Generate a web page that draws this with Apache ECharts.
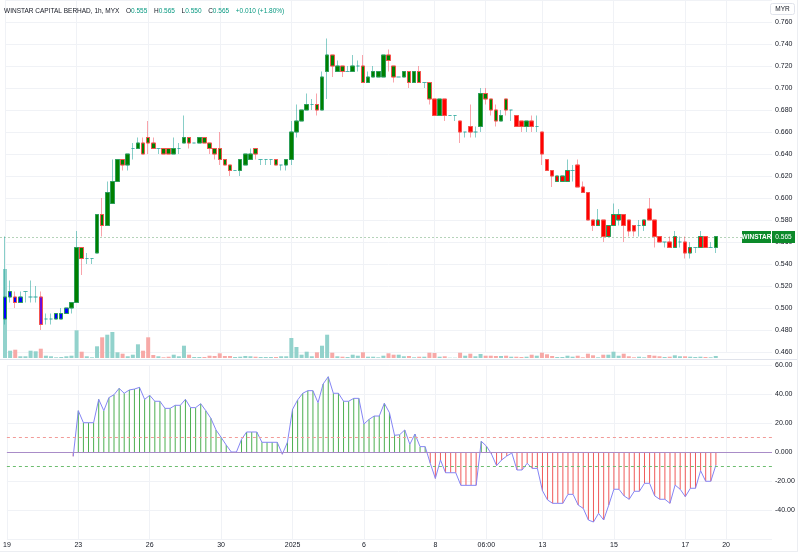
<!DOCTYPE html>
<html><head><meta charset="utf-8">
<script src="https://cdn.jsdelivr.net/npm/echarts@6/dist/echarts.min.js"></script>
<style>html,body{margin:0;padding:0;background:#fff}#c{width:800px;height:553px}</style>
</head><body><div id="c"></div>
<script>
// ---- data (1h bars, WINSTAR CAPITAL BERHAD, MYX) ----
const opens = [
 .49,.51,.51,.505,.515,.51,.51,.51,.49,.49,
 .49,.49,.495,.50,.505,.555,.545,.545,.55,.585,
 .575,.595,.615,.635,.63,.645,.645,.65,.655,.65,
 .645,.645,.645,.64,.645,.65,.655,.65,.65,.655,
 .65,.645,.645,.635,.63,.625,.625,.63,.635,.645,
 .635,.635,.635,.635,.63,.63,.635,.66,.67,.68,
 .685,.685,.68,.715,.73,.715,.72,.715,.715,.72,
 .72,.705,.71,.71,.71,.73,.72,.71,.71,.715,
 .705,.715,.705,.705,.69,.675,.69,.675,.675,.67,
 .66,.665,.66,.665,.695,.69,.68,.67,.69,.68,
 .675,.67,.665,.67,.665,.66,.635,.625,.615,.615,
 .615,.625,.63,.61,.605,.58,.575,.58,.565,.575,
 .58,.585,.58,.575,.575,.575,.59,.58,.565,.56,
 .56,.555,.56,.56,.55,.555,.555,.565,.555,.555];
const highs = [
 .565,.525,.515,.515,.515,.525,.52,.515,.495,.495,
 .495,.50,.50,.505,.57,.555,.55,.545,.585,.60,
 .615,.635,.635,.635,.64,.65,.655,.655,.67,.655,
 .645,.645,.645,.655,.65,.675,.655,.65,.655,.655,
 .65,.645,.66,.635,.63,.625,.635,.64,.645,.645,
 .635,.635,.635,.635,.63,.635,.67,.685,.68,.695,
 .69,.695,.715,.745,.73,.725,.72,.72,.73,.725,
 .73,.715,.72,.715,.73,.735,.72,.71,.715,.715,
 .715,.72,.705,.705,.69,.69,.69,.675,.675,.67,
 .66,.685,.665,.70,.70,.69,.685,.68,.69,.68,
 .675,.67,.67,.675,.675,.66,.635,.625,.62,.62,
 .635,.63,.635,.615,.605,.58,.59,.58,.575,.595,
 .59,.585,.58,.575,.58,.58,.60,.58,.565,.56,
 .565,.57,.565,.565,.56,.555,.57,.565,.56,.565];
const lows = [
 .485,.505,.50,.505,.505,.505,.505,.48,.485,.485,
 .49,.49,.495,.495,.505,.53,.54,.54,.55,.565,
 .575,.595,.615,.625,.625,.635,.645,.64,.64,.645,
 .64,.64,.64,.64,.64,.65,.645,.65,.65,.65,
 .64,.635,.63,.63,.62,.625,.62,.63,.635,.635,
 .63,.63,.63,.63,.625,.625,.63,.655,.67,.68,
 .68,.675,.68,.69,.71,.715,.71,.715,.715,.715,
 .705,.705,.71,.71,.71,.715,.705,.71,.71,.70,
 .705,.705,.70,.685,.675,.675,.67,.675,.67,.65,
 .655,.655,.655,.66,.685,.675,.665,.67,.675,.67,
 .665,.66,.66,.66,.66,.63,.625,.61,.615,.615,
 .615,.615,.61,.605,.58,.57,.575,.56,.565,.575,
 .575,.56,.565,.565,.565,.57,.58,.555,.56,.555,
 .555,.555,.555,.545,.545,.55,.555,.555,.555,.55];
const closes = [
 .51,.515,.505,.51,.515,.51,.51,.485,.49,.49,
 .495,.495,.50,.505,.555,.545,.545,.545,.585,.575,
 .605,.615,.635,.63,.64,.645,.65,.64,.65,.645,
 .645,.64,.64,.645,.645,.655,.65,.65,.655,.65,
 .645,.64,.635,.63,.625,.625,.635,.64,.64,.64,
 .635,.635,.635,.63,.63,.635,.66,.67,.68,.685,
 .685,.68,.71,.73,.72,.72,.715,.715,.72,.72,
 .705,.71,.715,.715,.73,.725,.71,.71,.715,.705,
 .715,.705,.705,.69,.675,.69,.675,.675,.675,.66,
 .66,.66,.66,.695,.69,.68,.67,.675,.68,.68,
 .665,.665,.67,.665,.665,.64,.625,.62,.62,.62,
 .625,.625,.61,.605,.58,.575,.58,.565,.575,.585,
 .585,.575,.57,.57,.575,.58,.58,.565,.56,.56,
 .555,.565,.56,.55,.555,.555,.565,.555,.555,.565];
const volumes = [
 89,7.3,8.3,1.7,1.7,7.3,6.7,9.3,2.3,1.7,
 .7,1,1.7,2.3,27.7,6.3,1.7,.7,11.7,20.7,
 23.3,26,5.7,4.3,1.7,3.3,13.7,7.3,20.7,3,
 1.7,.7,1.3,3.3,1.7,12.3,3.3,1,1,1,
 2.3,2,4.7,2,2,1,1.3,2,1.7,1.3,
 1,1,1,1,1.7,1.7,20,11,3.3,6.3,
 1.7,5.7,12.3,23.3,5.3,1.7,1.3,1,3.3,2.3,
 5.7,1.3,1.3,.7,2.3,4.7,3.3,3.3,1.7,2,
 .7,1.3,1.3,5.3,5,1.3,1.7,.3,.3,5.3,
 2.3,4.3,1.7,4,2.3,2.3,2,2,2.3,1.3,
 1.3,1,1.3,3.3,2.3,5.3,3.7,2,1,1,
 2.3,1.3,2.3,.7,4.3,2.7,.7,3.3,3.3,6.3,
 2.3,4.3,1.7,.7,1.3,.7,3,2.3,1.7,1,
 1.3,2.7,1.7,1.7,1.3,1,1.3,1,.7,2];
const oscillator = [
 null,null,null,null,null,null,null,null,null,null,
 null,null,null,-3,28.5,20.2,20.2,20.2,36.3,28.5,
 37.5,39.5,43.9,40.5,42.8,43.4,44.6,36.3,39.1,35,
 35,30.1,30.1,32.2,32.2,36.3,30.6,30.6,33.3,28.5,
 23.2,15.2,10.1,4.8,0,0,8.7,13.8,13.8,13.8,
 6.7,6.7,6.7,6.7,-1.5,6.7,29.4,35.9,40.5,42.3,
 42.3,34,46.9,51.9,40.5,40.5,35,35,37,37,
 19.3,22.5,24.8,24.8,33.6,27.1,11.5,11.9,15.2,5.3,
 12.4,3.7,3.7,-7.8,-18.2,-5.5,-14.3,-14.3,-14.3,-23,
 -23,-23,-23,7.4,4.1,-1.4,-9.4,-5.5,-2.8,-0.7,
 -12.4,-12.4,-7.8,-11.3,-11.3,-26.7,-33.1,-35.4,-35.4,-35.4,
 -29.2,-29.2,-36.6,-38.9,-46.9,-48.3,-42.3,-46.9,-36.6,-25.7,
 -25.7,-30.3,-32.6,-27.1,-27.1,-21.6,-21.6,-30.3,-32.6,-32.6,
 -35.4,-22.8,-25.7,-30.8,-25,-25,-12.9,-20.2,-20.2,-9];
const oscLevels = [10, 0, -10];
const highlightBars = [7];
const tickIndex = [0,14,28,42,56,70,84,94,105,119,133,141];
const tickText  = ['19','23','26','30','2025','6','8','06:00','13','15','17','20'];
const totalSlots = 151;
const symbolName = 'WINSTAR CAPITAL BERHAD, 1h, MYX';
const shortName = 'WINSTAR';
const currency = 'MYR';

// ---- build ----
const N = closes.length;
const cats = Array.from({length: totalSlots}, (_, i) => String(i));
const labelAt = {}; tickIndex.forEach((k, j) => labelAt[k] = tickText[j]);
const isTick = i => labelAt[i] !== undefined;

const UP_FADE = 'rgba(38,166,154,0.55)', DN_FADE = 'rgba(242,54,69,0.45)';
const UP_BORDER = '#2e9e5b', DN_BORDER = '#f4524d';
const FILL = {G: '#008000', R: '#ff0000', B: '#0000ff', P: '#6a0ddb'};
const GRID_LINE = '#f0f2f6';
const TXT = '#131722';

function fillOf(i) {
  if (highlightBars.includes(i)) return FILL.P;
  const v = oscillator[i];
  if (v === null) return FILL.B;
  return v < oscLevels[2] ? FILL.R : FILL.G;
}

const candleFaded = [], candleBody = [], volData = [], stemData = [];
for (let i = 0; i < N; i++) {
  const o = opens[i], c = closes[i];
  candleFaded.push([o, c, lows[i], highs[i]]);
  if (o === c) candleBody.push('-');
  else {
    const b = c > o ? UP_BORDER : DN_BORDER, f = fillOf(i);
    candleBody.push({value: [o, c, Math.min(o, c), Math.max(o, c)],
      itemStyle: {color: f, color0: f, borderColor: b, borderColor0: b}});
  }
  volData.push({value: volumes[i], itemStyle: {color: c < o ? '#f7a9a7' : '#92d2cc'}});
  const v = oscillator[i];
  stemData.push(v === null ? '-' : {value: v, itemStyle: {color: v >= 0 ? '#4caf50' : '#f05a5a'}});
}

const L = 5, R = 28;
function xAxis(gridIndex, showLabel) {
  return {
    type: 'category', gridIndex, data: cats, boundaryGap: false,
    axisLine: {show: false}, axisTick: {show: false},
    axisLabel: {show: showLabel, interval: (i) => isTick(i), formatter: (v, i) => labelAt[i] || '',
      fontSize: 7, color: TXT, margin: 3, fontFamily: 'Liberation Sans, Arial, sans-serif'},
    splitLine: {show: gridIndex !== 1, interval: (i) => isTick(i), lineStyle: {color: GRID_LINE, width: 1}}
  };
}

const chart = echarts.init(document.getElementById('c'));
chart.setOption({
  animation: false,
  backgroundColor: '#ffffff',
  grid: [
    {left: L, right: R, top: 0, height: 352},
    {left: L, right: R, top: 268, height: 90},
    {left: L, right: R, top: 365, height: 174}
  ],
  xAxis: [xAxis(0, false), xAxis(1, false), xAxis(2, true)],
  yAxis: [
    {type: 'value', gridIndex: 0, position: 'right', min: 0.46, max: 0.78, interval: 0.02,
     axisLine: {show: false}, axisTick: {show: false},
     axisLabel: {fontSize: 7, color: TXT, margin: 3, showMaxLabel: false,
       formatter: v => v.toFixed(3), fontFamily: 'Liberation Sans, Arial, sans-serif'},
     splitLine: {lineStyle: {color: GRID_LINE}}},
    {type: 'value', gridIndex: 1, min: 0, max: 90, show: false},
    {type: 'value', gridIndex: 2, position: 'right', min: -60, max: 60, interval: 20,
     axisLine: {show: false}, axisTick: {show: false},
     axisLabel: {fontSize: 7, color: TXT, margin: 3, showMinLabel: false,
       formatter: v => v === 0 ? '0.000' : v.toFixed(2), fontFamily: 'Liberation Sans, Arial, sans-serif'},
     splitLine: {lineStyle: {color: GRID_LINE}}}
  ],
  series: [
    {type: 'bar', name: 'vol', xAxisIndex: 1, yAxisIndex: 1, data: volData, barWidth: 4, z: 1},
    {type: 'candlestick', name: 'faded', xAxisIndex: 0, yAxisIndex: 0, data: candleFaded, barWidth: 4, z: 2,
     itemStyle: {color: UP_FADE, color0: DN_FADE, borderColor: UP_FADE, borderColor0: DN_FADE,
       borderColorDoji: UP_FADE, borderWidth: 1}},
    {type: 'candlestick', name: 'body', xAxisIndex: 0, yAxisIndex: 0, data: candleBody, barWidth: 4, z: 3,
     itemStyle: {borderWidth: 1}},
    {type: 'bar', name: 'stems', xAxisIndex: 2, yAxisIndex: 2, data: stemData, barWidth: 1, z: 2},
    {type: 'line', name: 'osc', xAxisIndex: 2, yAxisIndex: 2, data: oscillator, showSymbol: false,
     lineStyle: {color: '#8585f5', width: 1}, z: 4,
     markLine: {silent: true, symbol: 'none', label: {show: false},
       data: [
         {yAxis: oscLevels[0], lineStyle: {type: [3, 3], color: '#f29b98', width: 1}},
         {yAxis: oscLevels[1], lineStyle: {type: 'solid', color: '#a98cc8', width: 1}},
         {yAxis: oscLevels[2], lineStyle: {type: [3, 3], color: '#6dbd70', width: 1}}
       ]}}
  ]
});

const last = N - 1;
const lc = closes[last], pc = closes[last - 1];
const chg = lc - pc, pct = chg / pc * 100;
const sgn = chg >= 0 ? '+' : '';
const py = Math.round(chart.convertToPixel({yAxisIndex: 0}, lc)) + 0.5;
const gx0 = chart.convertToPixel({xAxisIndex: 0}, 0) - L;
const gx1 = chart.convertToPixel({xAxisIndex: 0}, totalSlots - 1);
const font = 'Liberation Sans, Arial, sans-serif';
chart.setOption({
  graphic: [
    {type: 'line', z: 2, silent: true, shape: {x1: gx0, y1: py, x2: gx1, y2: py},
     style: {stroke: '#b5d3b9', lineWidth: 1, lineDash: [2, 2]}},
    {type: 'text', left: 4, top: 5, z: 10, style: {
      text: '{t|' + symbolName + '}  {k|O}{v|' + opens[last].toFixed(3) + '}  {k|H}{v|' + highs[last].toFixed(3) +
            '}  {k|L}{v|' + lows[last].toFixed(3) + '}  {k|C}{v|' + lc.toFixed(3) + '}  {v|' + sgn + chg.toFixed(3) +
            ' (' + sgn + pct.toFixed(2) + '%)}',
      rich: {t: {fontSize: 6.5, fill: TXT, fontFamily: font}, k: {fontSize: 6.5, fill: TXT, fontFamily: font},
             v: {fontSize: 6.5, fill: '#089981', fontFamily: font}}}},
    {type: 'rect', z: 10, shape: {x: 770.5, y: 3.5, width: 24, height: 11, r: 2},
     style: {fill: '#fff', stroke: '#e0e3eb', lineWidth: 1}},
    {type: 'text', z: 11, x: 782.5, y: 9, style: {text: currency, fontSize: 6.5, fill: TXT, fontFamily: font,
      textAlign: 'center', textVerticalAlign: 'middle'}},
    {type: 'line', z: 10, shape: {x1: 0, y1: 359.5, x2: 797, y2: 359.5}, style: {stroke: '#e0e3eb', lineWidth: 1}},
    {type: 'line', z: 10, shape: {x1: 0, y1: 551.5, x2: 797, y2: 551.5}, style: {stroke: '#eceef2', lineWidth: 1}},
    {type: 'line', z: 10, shape: {x1: 797.5, y1: 0, x2: 797.5, y2: 552}, style: {stroke: '#eceef2', lineWidth: 1}},
    {type: 'rect', z: 12, shape: {x: 742, y: py - 6.5, width: 29, height: 12},
     style: {fill: '#0c8a2a'}},
    {type: 'text', z: 13, x: 756.5, y: py, style: {text: shortName, fontSize: 6.5, fontWeight: 'bold', fill: '#fff',
      fontFamily: font, textAlign: 'center', textVerticalAlign: 'middle'}},
    {type: 'rect', z: 12, shape: {x: 772, y: py - 6.5, width: 23, height: 12},
     style: {fill: '#0c8a2a'}},
    {type: 'text', z: 13, x: 783.5, y: py, style: {text: lc.toFixed(3), fontSize: 6.5, fill: '#fff',
      fontFamily: font, textAlign: 'center', textVerticalAlign: 'middle'}}
  ]
});
</script></body></html>
